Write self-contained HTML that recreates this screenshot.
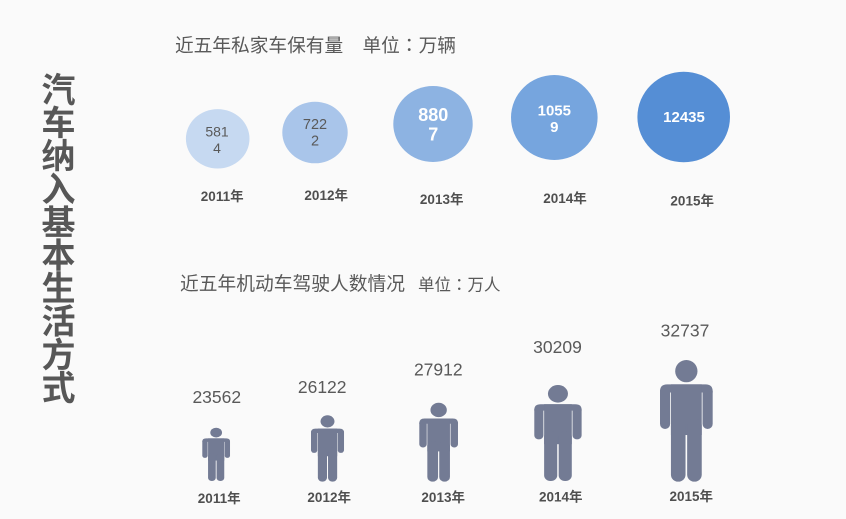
<!DOCTYPE html>
<html>
<head>
<meta charset="utf-8">
<style>
  html, body { margin:0; padding:0; background:#fafafa; }
  body { width:846px; height:519px; overflow:hidden; }
  svg { display:block; }
  text { font-family: "Liberation Sans", "Noto Sans CJK SC", sans-serif; }
  .cjk { font-family: "Noto Sans CJK SC", "Liberation Sans", sans-serif; }
  .colon { font-family: "Noto Sans CJK JP", "Noto Sans CJK TC", sans-serif; }
</style>
</head>
<body>
<svg width="846" height="519" viewBox="0 0 846 519" xmlns="http://www.w3.org/2000/svg">
  <defs>
    <g id="person">
      <circle cx="26" cy="11" r="11"/>
      <path d="M0,31 Q0,24 7,24 H45 Q52,24 52,31 V32 H0 Z"/>
      <rect x="0" y="26" width="10" height="42" rx="5"/>
      <rect x="42" y="26" width="10" height="42" rx="5"/>
      <rect x="10.8" y="24" width="30.4" height="50"/>
      <rect x="10.8" y="58" width="14.4" height="62" rx="7"/>
      <rect x="26.8" y="58" width="14.4" height="62" rx="7"/>
    </g>
  </defs>

  <!-- Vertical title -->
  <g class="cjk" font-size="34" font-weight="bold" fill="#575757" text-anchor="middle">
    <text x="58.5" y="102">汽</text>
    <text x="58.5" y="135.1">车</text>
    <text x="58.5" y="168.2">纳</text>
    <text x="58.5" y="201.3">入</text>
    <text x="58.5" y="234.4">基</text>
    <text x="58.5" y="267.5">本</text>
    <text x="58.5" y="300.6">生</text>
    <text x="58.5" y="333.7">活</text>
    <text x="58.5" y="366.8">方</text>
    <text x="58.5" y="399.9">式</text>
  </g>

  <!-- Title 1 -->
  <text class="cjk" x="175" y="52" font-size="18.7" fill="#595959">近五年私家车保有量</text>
  <text class="cjk" x="362.5" y="52" font-size="18.7" fill="#595959">单位<tspan class="colon">：</tspan>万辆</text>

  <!-- Bubbles -->
  <ellipse cx="217.7" cy="138.8" rx="31.8" ry="29.7" fill="#c6d9f1"/>
  <ellipse cx="315" cy="132.5" rx="32.7" ry="30.8" fill="#a9c5ea"/>
  <ellipse cx="433" cy="124" rx="39.7" ry="38" fill="#8db3e2"/>
  <ellipse cx="554.3" cy="117.5" rx="43.3" ry="42.5" fill="#76a5de"/>
  <ellipse cx="683.7" cy="117" rx="46.3" ry="45.3" fill="#558ed5"/>

  <g text-anchor="middle">
    <text x="217" y="136.6" font-size="14" fill="#595959">581</text>
    <text x="217" y="152.9" font-size="14" fill="#595959">4</text>
    <text x="315" y="129" font-size="14.5" fill="#595959">722</text>
    <text x="315" y="145.7" font-size="14.5" fill="#595959">2</text>
    <text x="433.3" y="120.8" font-size="18" font-weight="bold" fill="#ffffff">880</text>
    <text x="433.3" y="140.5" font-size="18" font-weight="bold" fill="#ffffff">7</text>
    <text x="554.3" y="115.4" font-size="15" font-weight="bold" fill="#ffffff">1055</text>
    <text x="554.3" y="132.1" font-size="15" font-weight="bold" fill="#ffffff">9</text>
    <text x="684" y="122.1" font-size="15" font-weight="bold" fill="#ffffff">12435</text>
  </g>

  <!-- Bubble year labels -->
  <g text-anchor="middle" font-size="13.5" font-weight="bold" fill="#4f4f4f">
    <text x="222.2" y="200.9">2011年</text>
    <text x="326.2" y="199.9">2012年</text>
    <text x="441.7" y="204.2">2013年</text>
    <text x="565" y="203.2">2014年</text>
    <text x="692.2" y="205.6">2015年</text>
  </g>

  <!-- Title 2 -->
  <text class="cjk" x="180" y="290" font-size="18.75" fill="#595959">近五年机动车驾驶人数情况</text>
  <text class="cjk" x="418" y="290.5" font-size="16.5" fill="#595959">单位<tspan class="colon">：</tspan>万人</text>

  <!-- Value labels -->
  <g text-anchor="middle" font-size="17.5" fill="#595959">
    <text x="216.8" y="403">23562</text>
    <text x="322.2" y="393">26122</text>
    <text x="438.3" y="375.6">27912</text>
    <text x="557.5" y="353">30209</text>
    <text x="685" y="336.3">32737</text>
  </g>

  <!-- People -->
  <g fill="#737b94">
    <use href="#person" transform="translate(202.3,427.7) scale(0.533,0.444)"/>
    <use href="#person" transform="translate(311,415.3) scale(0.635,0.553)"/>
    <use href="#person" transform="translate(419.3,402.7) scale(0.744,0.658)"/>
    <use href="#person" transform="translate(534.3,385) scale(0.91,0.8)"/>
    <use href="#person" transform="translate(660,360) scale(1.013,1.014)"/>
  </g>

  <!-- People year labels -->
  <g text-anchor="middle" font-size="13.5" font-weight="bold" fill="#4f4f4f">
    <text x="219.2" y="503.2">2011年</text>
    <text x="329.2" y="502.2">2012年</text>
    <text x="443.2" y="502.2">2013年</text>
    <text x="560.8" y="501.6">2014年</text>
    <text x="691.3" y="500.9">2015年</text>
  </g>
</svg>
</body>
</html>
